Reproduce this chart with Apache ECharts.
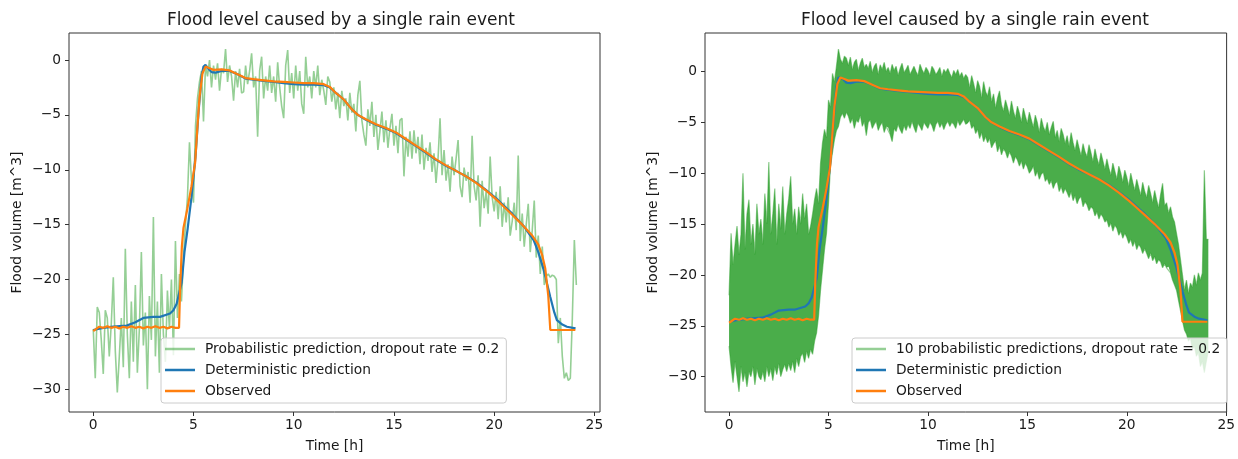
<!DOCTYPE html>
<html><head><meta charset="utf-8">
<script src="https://cdn.jsdelivr.net/npm/echarts@6/dist/echarts.min.js"></script>
<style>html,body{margin:0;padding:0;background:#fff}#c{width:1238px;height:459px}</style>
</head><body><div id="c"></div>
<script>
// ---------- data ----------
const xTicks = [0, 5, 10, 15, 20, 25];
const yTicks = [-30, -25, -20, -15, -10, -5, 0];
const probStep = 0.1; // hours between samples of the probabilistic series

// left: one probabilistic prediction (dropout 0.2)
const probLeft = [
  -24.5, -29.0, -22.5, -23.0, -25.5, -28.6, -22.8, -23.5, -27.0, -24.0,
  -19.8, -26.5, -30.3, -27.0, -23.5, -28.0, -17.2, -25.0, -29.0, -22.0,
  -27.5, -20.5, -28.5, -24.5, -17.5, -26.0, -23.0, -30.0, -21.5, -25.5,
  -14.3, -27.0, -22.0, -28.5, -19.5, -25.0, -27.5, -21.0, -24.5, -20.0,
  -26.9, -16.5, -23.5, -19.5, -22.0, -18.0, -15.0, -12.5, -7.5, -11.0,
  -13.0, -6.0, -3.5, -2.0, -1.0, -5.6, -0.5, -1.5, 0.0, -2.5,
  -0.5, -1.8, -0.3, -2.8, -0.8, -1.2, 1.0, -2.0, -0.5, -1.5,
  -3.7, -1.0, -2.5, -0.8, -3.0, -2.9, -0.5, -2.2, -1.0, 0.6,
  -2.5, -1.5, -7.0, -1.0, 0.3, -3.5, -1.5, -2.8, -0.5, -3.0,
  -1.5, -3.8, -0.2, -2.5, -4.2, -5.3, -0.5, 0.9, -3.0, -1.2,
  -3.5, -0.5, -2.8, -1.0, -4.0, -4.9, 0.3, -2.5, -1.5, -3.5,
  -1.0, -2.5, -0.5, -3.2, -1.8, -2.8, -4.1, -1.5, -2.0, -3.8,
  -2.5, -4.5, -3.0, -5.3, -2.8, -4.2, -3.5, -5.5, -3.0, -4.8,
  -4.0, -6.5, -3.2, -1.9, -5.5, -6.8, -7.8, -4.5, -6.0, -3.8,
  -7.0, -5.0, -8.2, -6.5, -4.7, -7.5, -5.5, -8.0, -6.2, -4.9,
  -7.8, -6.0, -8.5, -5.5, -5.3, -10.6, -7.0, -8.8, -6.5, -9.0,
  -6.4, -8.5, -7.0, -9.5, -6.8, -10.0, -8.0, -9.2, -7.5, -10.2,
  -8.5, -11.2, -9.0, -5.3, -10.5, -8.2, -11.0, -9.5, -12.0, -8.8,
  -10.5, -9.0, -7.3, -11.5, -12.5, -9.8, -11.0, -10.2, -13.0, -6.9,
  -11.5, -12.8, -10.5, -15.2, -11.0, -13.5, -12.0, -14.0, -8.8, -12.5,
  -13.8, -12.0, -14.5, -11.5, -15.2, -13.0, -14.8, -12.5, -16.0, -14.7,
  -13.0, -15.5, -8.7, -16.5, -14.0, -17.0, -15.0, -13.1, -17.5, -15.5,
  -12.8, -18.0, -16.0, -19.5, -17.0, -20.5, -19.7, -19.5, -19.8, -19.6,
  -19.7, -20.0, -25.8, -23.5, -27.0, -29.0, -28.5, -29.2, -29.0, -23.5,
  -16.4, -20.5
];

// right: envelope of the 10 probabilistic predictions (upper / lower edge)
const probRightUpper = [
  -22.0, -15.9, -19.0, -17.0, -15.2, -18.0, -16.0, -10.0, -17.5, -14.0,
  -12.6, -17.0, -15.0, -18.0, -13.0, -16.0, -14.5, -17.0, -12.0, -15.0,
  -8.9, -16.0, -14.0, -11.5, -17.0, -13.0, -15.5, -11.3, -16.0, -14.0,
  -12.5, -10.3, -15.0, -13.5, -16.0, -13.3, -15.0, -12.0, -14.5, -13.0,
  -16.0, -15.2, -14.0, -12.6, -11.5, -13.0, -9.0, -7.0, -5.7, -6.5,
  -2.8, -3.5, -0.2, -1.0, 0.5, 2.2, 1.2, 0.8, 1.5, 1.3,
  0.6, 1.4, 0.2, 0.9, 1.2, 0.1, 0.8, 1.3, 0.4, 0.7,
  0.3, 1.0, -0.1, 0.5, 0.8, -0.3, 0.65, 0.2, 0.9, 0.0,
  0.4, -0.2, 0.7, 0.1, 0.5, -0.4, 0.3, 0.8, -0.1, 0.2,
  0.6, -0.3, 0.1, 0.5, 0.0, -0.4, 0.7, 0.2, -0.2, 0.4,
  0.1, -0.4, 0.5, 0.2, -0.3, 0.0, 0.4, -0.5, 0.2, -0.1,
  0.3, -0.2, -0.6, 0.1, -0.3, 0.2, -0.5, -0.1, -0.7, -0.3,
  -0.6, -1.6, -0.4, -1.2, -2.1, -0.9, -1.5, -2.6, -1.0, -2.0,
  -2.4, -1.5, -3.0, -2.2, -3.6, -2.6, -1.9, -3.3, -3.9, -2.8,
  -3.5, -4.3, -2.9, -3.9, -4.6, -3.4, -4.1, -5.0, -3.6, -4.4,
  -5.1, -4.0, -4.75, -5.5, -4.3, -5.0, -6.0, -4.6, -5.4, -5.9,
  -5.0, -6.2, -5.5, -4.9, -6.5, -5.8, -6.9, -5.6, -6.2, -7.1,
  -6.3, -7.4, -6.0, -7.0, -7.8, -6.7, -7.5, -8.3, -7.1, -7.9,
  -8.4, -7.2, -8.0, -8.9, -7.6, -8.5, -9.2, -8.0, -8.8, -9.6,
  -8.6, -9.5, -10.2, -9.0, -9.8, -10.6, -9.3, -10.0, -10.9, -9.7,
  -10.4, -11.3, -10.0, -10.9, -11.7, -10.6, -11.4, -12.2, -10.9, -11.8,
  -12.4, -11.2, -12.0, -12.9, -11.7, -12.6, -13.4, -12.1, -11.0, -13.2,
  -12.9, -13.9, -13.3, -14.3, -14.8, -15.9, -17.0, -18.5, -20.0, -21.5,
  -20.5, -21.8, -20.8, -21.2, -20.0, -21.0, -19.8, -20.5, -19.8, -9.7,
  -16.5, -16.5
];
const probRightLower = [
  -27.0, -29.0, -30.6, -28.5, -30.0, -31.5, -29.0, -30.5, -29.6, -31.0,
  -29.5, -30.0, -29.0, -30.8, -29.2, -30.0, -30.3, -29.5, -30.5, -29.0,
  -30.0, -29.2, -30.4, -29.0, -29.8, -28.7, -30.0, -29.3, -28.8, -29.5,
  -28.7, -29.4, -28.5, -29.6, -28.2, -29.0, -28.0, -27.7, -28.6, -27.5,
  -28.2, -27.3, -27.8, -26.5, -25.7, -24.0, -21.5, -19.5, -17.5, -15.9,
  -13.0, -9.3, -8.0, -6.7, -5.8, -5.4, -4.5, -4.1, -4.6, -4.0,
  -4.4, -5.1, -4.6, -5.6, -4.8, -5.0, -4.3, -5.4, -4.9, -6.3,
  -5.0, -4.75, -5.6, -5.2, -4.9, -5.8, -5.3, -5.0, -6.0, -5.4,
  -5.5, -6.2, -6.9, -5.6, -5.9, -5.2, -5.7, -6.1, -5.3, -5.8,
  -5.2, -5.6, -4.9, -5.5, -6.0, -5.1, -5.4, -5.8, -5.0, -5.3,
  -5.6, -5.0, -5.3, -5.9, -5.2, -4.9, -5.5, -5.1, -5.7, -5.2,
  -4.9, -5.4, -5.0, -5.2, -5.6, -4.8, -5.3, -5.0, -4.7, -5.2,
  -5.1, -4.8, -5.6, -5.3, -6.1, -5.7, -6.6, -6.0, -6.9, -6.4,
  -7.0, -6.6, -7.5, -7.1, -6.8, -7.9, -7.3, -8.2, -7.6, -7.9,
  -8.5, -7.9, -8.3, -9.0, -8.35, -8.7, -9.3, -8.8, -9.6, -9.0,
  -9.4, -10.0, -9.7, -9.3, -10.3, -9.8, -10.6, -10.1, -9.9, -10.8,
  -10.5, -11.1, -10.7, -11.5, -11.0, -10.8, -11.8, -11.3, -12.0, -11.5,
  -11.9, -12.4, -11.8, -12.7, -12.2, -13.0, -12.5, -12.3, -13.3, -12.8,
  -13.1, -13.7, -13.3, -13.5, -14.2, -13.8, -14.5, -14.0, -14.3, -14.8,
  -14.6, -15.3, -14.9, -15.7, -15.1, -15.4, -16.1, -15.7, -16.4, -15.9,
  -16.3, -16.9, -16.5, -17.2, -16.7, -17.5, -17.0, -17.3, -17.9, -17.4,
  -17.9, -18.4, -17.85, -18.6, -18.2, -18.9, -18.5, -18.7, -19.3, -18.9,
  -19.3, -19.2, -19.8, -20.5, -21.0, -21.5, -22.5, -23.5, -24.5, -25.4,
  -25.8, -26.5, -26.2, -27.3, -27.0, -28.0, -27.6, -29.0, -28.5, -29.6,
  -28.5, -27.5
];

// deterministic prediction
const detT = [0, 0.5, 1.0, 1.67, 2.1, 2.5, 3.0, 3.33, 3.83, 4.0,
  4.16, 4.41, 4.55, 4.7, 4.9, 5.1, 5.25, 5.4, 5.5, 5.6,
  5.7, 5.9, 6.1, 6.4, 6.8, 7.2, 7.6, 8.0, 8.5, 9.0,
  9.5, 10.0, 10.5, 11.0, 11.5, 11.8, 12.1, 12.5, 12.9, 13.2,
  13.6, 14.1, 14.6, 15.1, 15.6, 16.1, 16.6, 17.1, 17.6, 18.1,
  18.6, 19.1, 19.6, 20.1, 20.5, 20.9, 21.5, 21.97, 22.2, 22.47,
  22.8, 23.0, 23.13, 23.4, 23.63, 24.06];
const detV = [-24.6, -24.4, -24.3, -24.2, -23.9, -23.5, -23.4, -23.4, -23.1, -22.8,
  -22.2, -20.3, -17.5, -15.5, -12.5, -8.8, -4.8, -1.5, -0.6, -0.45,
  -0.7, -1.1, -1.15, -1.0, -1.0, -1.3, -1.7, -1.8, -1.9, -2.0,
  -2.1, -2.2, -2.25, -2.25, -2.3, -2.5, -3.0, -3.6, -4.5, -5.0,
  -5.45, -5.9, -6.25, -6.65, -7.25, -7.85, -8.45, -9.1, -9.65, -10.1,
  -10.6, -11.15, -11.85, -12.6, -13.3, -14.0, -15.2, -16.4, -17.5, -19.1,
  -21.6, -23.0, -23.7, -24.1, -24.3, -24.45];

// observed
const obsT = [0, 0.15, 0.3, 0.5, 0.7, 0.9, 1.1, 1.3, 1.5, 1.7,
  1.9, 2.1, 2.3, 2.5, 2.7, 2.9, 3.1, 3.3, 3.5, 3.7,
  3.9, 4.1, 4.28, 4.33, 4.42, 4.5, 4.7, 4.9, 5.08, 5.2,
  5.3, 5.45, 5.6, 5.8, 6.0, 6.4, 6.8, 7.2, 7.6, 8.0,
  8.5, 9.0, 9.5, 10.0, 10.5, 11.0, 11.5, 11.8, 12.1, 12.5,
  12.9, 13.2, 13.6, 14.1, 14.6, 15.1, 15.6, 16.1, 16.6, 17.1,
  17.6, 18.1, 18.6, 19.1, 19.6, 20.1, 20.5, 20.9, 21.4, 21.9,
  22.2, 22.4, 22.55, 22.7, 22.8, 23.2, 23.6, 24.05];
const obsV = [-24.7, -24.5, -24.3, -24.4, -24.25, -24.4, -24.3, -24.45, -24.3, -24.4,
  -24.25, -24.4, -24.3, -24.45, -24.3, -24.4, -24.25, -24.4, -24.3, -24.45,
  -24.3, -24.4, -24.4, -21.0, -17.0, -15.3, -13.5, -11.5, -9.4, -6.0,
  -3.4, -1.2, -0.6, -0.75, -0.9, -0.85, -0.95, -1.3, -1.65, -1.75,
  -1.85, -1.95, -2.0, -2.05, -2.1, -2.1, -2.2, -2.45, -3.0, -3.6,
  -4.5, -5.0, -5.4, -5.85, -6.2, -6.6, -7.2, -7.8, -8.4, -9.05,
  -9.6, -10.1, -10.6, -11.2, -11.9, -12.7, -13.4, -14.1, -15.0, -16.0,
  -16.8, -17.8, -19.0, -21.5, -24.6, -24.6, -24.6, -24.6];

const titleText = 'Flood level caused by a single rain event';
const xName = 'Time [h]';
const yName = 'Flood volume [m^3]';
const legendLeft = ['Probabilistic prediction, dropout rate = 0.2', 'Deterministic prediction', 'Observed'];
const legendRight = ['10 probabilistic predictions, dropout rate = 0.2', 'Deterministic prediction', 'Observed'];

// ---------- chart ----------
const FONT = 'DejaVu Sans';
const TXT = '#1a1a1a';
const FS = 13.8, FS_TITLE = 17;
const GREEN = '#2ca02c', BLUE = '#1f77b4', ORANGE = '#ff7f0e';

function pairs(ts, vs) { return ts.map((t, i) => [t, vs[i]]); }
function stepPairs(vs) { return vs.map((v, i) => [Math.round(i * probStep * 100) / 100, v]); }
const minus = v => (v < 0 ? '\u2212' + Math.abs(v) : String(v));

function xAxis(gi, max) {
  return {
    type: 'value', gridIndex: gi, min: -1.21, max: max,
    name: xName, nameLocation: 'middle', nameGap: 27,
    nameTextStyle: { fontFamily: FONT, fontSize: FS, color: TXT },
    axisLine: { show: false, onZero: false },
    axisTick: { show: true, inside: false, length: 4, lineStyle: { color: '#333' }, customValues: xTicks },
    axisLabel: { fontFamily: FONT, fontSize: FS, color: TXT, margin: 6, customValues: xTicks, formatter: minus },
    splitLine: { show: false }
  };
}
function yAxis(gi, min, max) {
  return {
    type: 'value', gridIndex: gi, min: min, max: max,
    name: yName, nameLocation: 'middle', nameGap: 45, nameRotate: 90,
    nameTextStyle: { fontFamily: FONT, fontSize: FS, color: TXT },
    axisLine: { show: false, onZero: false },
    axisTick: { show: true, inside: false, length: 4, lineStyle: { color: '#333' }, customValues: yTicks },
    axisLabel: { fontFamily: FONT, fontSize: FS, color: TXT, margin: 8, customValues: yTicks, formatter: minus },
    splitLine: { show: false }
  };
}
function legend(names, left, top) {
  return {
    data: [{ name: names[0], itemStyle: { color: 'rgba(44,160,44,0.5)' } }, { name: names[1] }, { name: names[2] }],
    left: left, top: top, orient: 'vertical', icon: 'rect',
    itemWidth: 30, itemHeight: 2.5, itemGap: 5,
    padding: [3, 7, 4, 4],
    backgroundColor: 'rgba(255,255,255,0.8)', borderColor: '#cccccc', borderWidth: 1, borderRadius: 3,
    selectedMode: false,
    textStyle: { fontFamily: FONT, fontSize: FS, color: TXT, lineHeight: 16, padding: [0, 0, 0, 5] }
  };
}
const lineBase = { type: 'line', showSymbol: false, symbol: 'none', silent: true, animation: false };

const upperPairs = stepPairs(probRightUpper);
const lowerPairs = stepPairs(probRightLower);

const option = {
  animation: false,
  backgroundColor: '#fff',
  title: [
    { text: titleText, left: 336, top: 7, textAlign: 'center', textStyle: { fontFamily: FONT, fontSize: FS_TITLE, fontWeight: 'normal', color: TXT } },
    { text: titleText, left: 970, top: 7, textAlign: 'center', textStyle: { fontFamily: FONT, fontSize: FS_TITLE, fontWeight: 'normal', color: TXT } }
  ],
  grid: [
    { left: 69, top: 33, width: 531, height: 379, show: true, borderColor: '#333', borderWidth: 1, backgroundColor: 'transparent' },
    { left: 705, top: 33, width: 525, height: 379, show: true, borderColor: '#333', borderWidth: 1, backgroundColor: 'transparent' }
  ],
  xAxis: [xAxis(0, 25.28), xAxis(1, 25.02)],
  yAxis: [yAxis(0, -32.07, 2.46), yAxis(1, -33.47, 3.78)],
  legend: [legend(legendLeft, 161, 338), legend(legendRight, 852, 338)],
  series: [
    Object.assign({}, lineBase, { name: legendLeft[0], xAxisIndex: 0, yAxisIndex: 0, data: stepPairs(probLeft),
      itemStyle: { color: GREEN }, lineStyle: { color: GREEN, width: 1.6, opacity: 0.5 }, z: 2 }),
    Object.assign({}, lineBase, { name: legendLeft[1], xAxisIndex: 0, yAxisIndex: 0, data: pairs(detT, detV),
      itemStyle: { color: BLUE }, lineStyle: { color: BLUE, width: 2.2 }, z: 3 }),
    Object.assign({}, lineBase, { name: legendLeft[2], xAxisIndex: 0, yAxisIndex: 0, data: pairs(obsT, obsV),
      itemStyle: { color: ORANGE }, lineStyle: { color: ORANGE, width: 2.2 }, z: 4 }),

    {
      type: 'custom', name: legendRight[0], coordinateSystem: 'cartesian2d', xAxisIndex: 1, yAxisIndex: 1,
      data: [[0, 0]], silent: true, animation: false, z: 1, itemStyle: { color: GREEN },
      renderItem: function (params, api) {
        const pts = upperPairs.map(p => api.coord(p))
          .concat(lowerPairs.slice().reverse().map(p => api.coord(p)));
        return { type: 'polygon', shape: { points: pts }, style: { fill: GREEN, opacity: 0.86 } };
      }
    },
    Object.assign({}, lineBase, { name: '_upperEdge', xAxisIndex: 1, yAxisIndex: 1, data: upperPairs,
      lineStyle: { color: GREEN, width: 1.2, opacity: 0.5 }, itemStyle: { color: GREEN }, z: 2 }),
    Object.assign({}, lineBase, { name: '_lowerEdge', xAxisIndex: 1, yAxisIndex: 1, data: lowerPairs,
      lineStyle: { color: GREEN, width: 1.2, opacity: 0.5 }, itemStyle: { color: GREEN }, z: 2 }),
    Object.assign({}, lineBase, { name: legendRight[1], xAxisIndex: 1, yAxisIndex: 1, data: pairs(detT, detV),
      itemStyle: { color: BLUE }, lineStyle: { color: BLUE, width: 2.2 }, z: 3 }),
    Object.assign({}, lineBase, { name: legendRight[2], xAxisIndex: 1, yAxisIndex: 1, data: pairs(obsT, obsV),
      itemStyle: { color: ORANGE }, lineStyle: { color: ORANGE, width: 2.2 }, z: 4 })
  ]
};

const chart = echarts.init(document.getElementById('c'), null, { renderer: 'canvas' });
chart.setOption(option);
</script>
</body></html>
